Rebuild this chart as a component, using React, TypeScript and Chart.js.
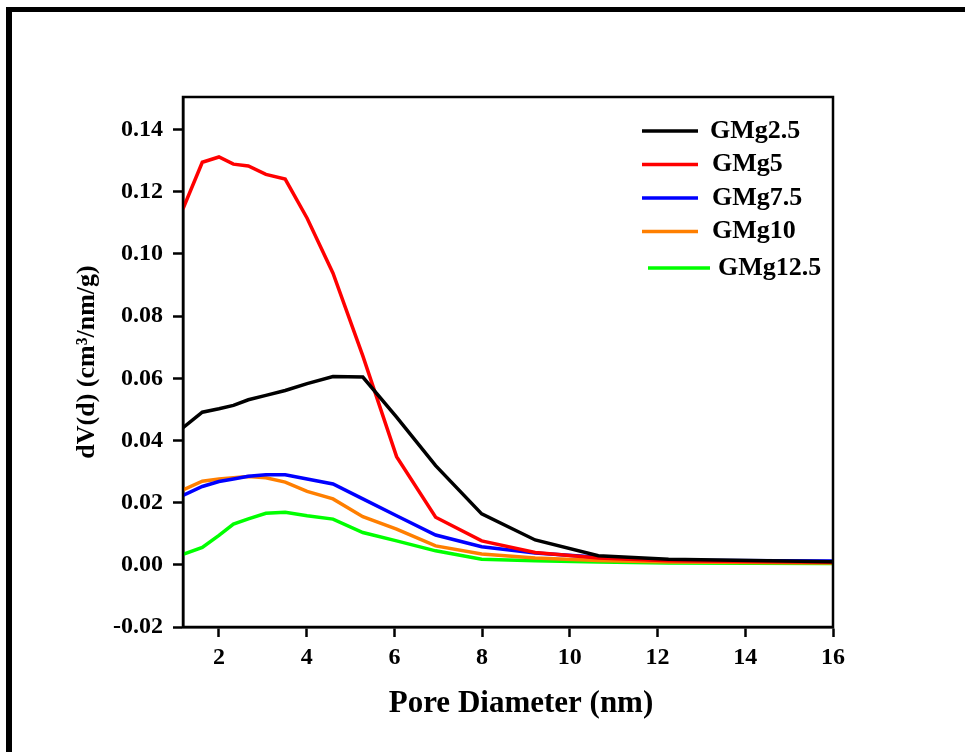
import React, { useEffect, useRef } from "react";
import { Chart, registerables } from "chart.js";

Chart.register(...registerables);

const poreDiameter = [1.18, 1.62, 2.0, 2.33, 2.67, 3.07, 3.51, 4.01, 4.6, 5.28, 6.05, 6.94, 7.99, 9.21, 10.65, 12.25, 16];

const gmg25 = [0.0441, 0.0491, 0.0502, 0.0513, 0.0531, 0.0545, 0.0561, 0.0583, 0.0606, 0.0604, 0.0475, 0.0319, 0.0164, 0.008, 0.0029, 0.0018, 0.001];
const gmg5 = [0.1145, 0.1295, 0.1312, 0.1289, 0.1283, 0.1256, 0.1241, 0.1115, 0.0938, 0.0672, 0.0348, 0.0153, 0.0077, 0.004, 0.0022, 0.0013, 0.0008];
const gmg75 = [0.0223, 0.0252, 0.0268, 0.0276, 0.0285, 0.029, 0.029, 0.0276, 0.026, 0.0212, 0.0158, 0.0096, 0.0058, 0.0038, 0.0024, 0.0015, 0.0012];
const gmg10 = [0.0241, 0.0269, 0.0276, 0.028, 0.0284, 0.028, 0.0266, 0.0236, 0.0212, 0.0155, 0.0115, 0.0061, 0.0035, 0.0022, 0.0014, 0.0009, 0.0006];
const gmg125 = [0.0034, 0.0056, 0.0095, 0.0131, 0.0148, 0.0166, 0.0169, 0.0158, 0.0147, 0.0104, 0.0077, 0.0045, 0.0018, 0.0013, 0.0009, 0.0006, 0.0004];

const seriesNames = ["GMg2.5", "GMg5", "GMg7.5", "GMg10", "GMg12.5"];
const seriesValues = [gmg25, gmg5, gmg75, gmg10, gmg125];
const seriesColors = ["#000000", "#ff0000", "#0000ff", "#ff7f00", "#00ff00"];

const xTitle = "Pore Diameter (nm)";
const yTitle = "dV(d) (cm\u00b3/nm/g)";

const FONT = "'Liberation Serif', 'Times New Roman', serif";

const decorPlugin = {
  id: "decor",
  beforeDraw(chart: any) {
    const ctx = chart.ctx;
    ctx.save();
    ctx.fillStyle = "#ffffff";
    ctx.fillRect(0, 0, chart.width, chart.height);
    ctx.fillStyle = "#000000";
    ctx.fillRect(6, 7, chart.width - 6, 5);
    ctx.fillRect(6, 7, 6, chart.height - 7);
    ctx.restore();
  },
  afterDraw(chart: any) {
    const ctx = chart.ctx;
    const a = chart.chartArea;
    ctx.save();
    ctx.strokeStyle = "#000000";
    ctx.lineWidth = 2.5;
    ctx.strokeRect(a.left, a.top, a.right - a.left, a.bottom - a.top);
    ctx.fillStyle = "#000000";
    ctx.font = `bold 31px ${FONT}`;
    ctx.textAlign = "center";
    ctx.textBaseline = "middle";
    ctx.fillText(xTitle, (a.left + a.right) / 2 + 13, 704);
    ctx.font = `bold 26px ${FONT}`;
    ctx.textBaseline = "middle";
    ctx.textAlign = "left";
    chart.data.datasets.forEach((ds: any, i: number) => {
      const last = i === chart.data.datasets.length - 1;
      const y = 131 + i * 33.5 + (last ? 3 : 0);
      const x0 = last ? 648 : 642;
      const x1 = last ? 710 : 698;
      const tx = last ? 718 : i === 0 ? 710 : 712;
      ctx.strokeStyle = ds.borderColor;
      ctx.lineWidth = 3.5;
      ctx.beginPath();
      ctx.moveTo(x0, y);
      ctx.lineTo(x1, y);
      ctx.stroke();
      ctx.fillStyle = "#000000";
      ctx.fillText(ds.label, tx, y);
    });
    ctx.restore();
  },
};

export default function App() {
  const ref = useRef<HTMLCanvasElement>(null);
  useEffect(() => {
    if (!ref.current) return;
    const chart = new Chart(ref.current, {
      type: "line",
      data: {
        datasets: seriesNames.map((name, i) => ({
          label: name,
          data: poreDiameter.map((x, j) => ({ x, y: seriesValues[i][j] })),
          borderColor: seriesColors[i],
          backgroundColor: seriesColors[i],
          borderWidth: 3.5,
          pointRadius: 0,
          tension: 0,
          fill: false,
        })),
      },
      options: {
        animation: false,
        responsive: true,
        maintainAspectRatio: false,
        layout: { padding: { top: 97, right: 132, left: 0, bottom: 0 } },
        plugins: { legend: { display: false }, tooltip: { enabled: false } },
        scales: {
          x: {
            type: "linear",
            min: 1.18,
            max: 16,
            afterFit: (s: any) => {
              s.height = 125;
            },
            ticks: {
              stepSize: 2,
              includeBounds: false,
              color: "#000",
              padding: 6,
              font: { family: FONT, size: 24, weight: "bold" },
              maxRotation: 0,
            },
            grid: { display: true, drawOnChartArea: false, drawTicks: true, tickLength: 10, tickWidth: 2.5, tickColor: "#000" },
            border: { display: true, color: "#000", width: 2.5 },
            title: { display: false, text: xTitle },
          },
          y: {
            type: "linear",
            min: -0.02,
            max: 0.1505,
            afterFit: (s: any) => {
              s.width = 183;
            },
            ticks: {
              stepSize: 0.02,
              includeBounds: false,
              color: "#000",
              padding: 10,
              font: { family: FONT, size: 24, weight: "bold" },
              callback: (v: any) => (Math.abs(Number(v)) < 1e-9 ? "0.00" : Number(v).toFixed(2)),
            },
            grid: { display: true, drawOnChartArea: false, drawTicks: true, tickLength: 10, tickWidth: 2.5, tickColor: "#000" },
            border: { display: true, color: "#000", width: 2.5 },
            title: {
              display: true,
              text: yTitle,
              color: "#000",
              font: { family: FONT, size: 26, weight: "bold" },
              padding: { top: 72, bottom: 0 },
            },
          },
        },
      },
      plugins: [decorPlugin],
    } as any);
    return () => chart.destroy();
  }, []);
  return (
    <div style={{ position: "fixed", left: 0, top: 0, width: 965, height: 752 }}>
      <canvas ref={ref} />
    </div>
  );
}
